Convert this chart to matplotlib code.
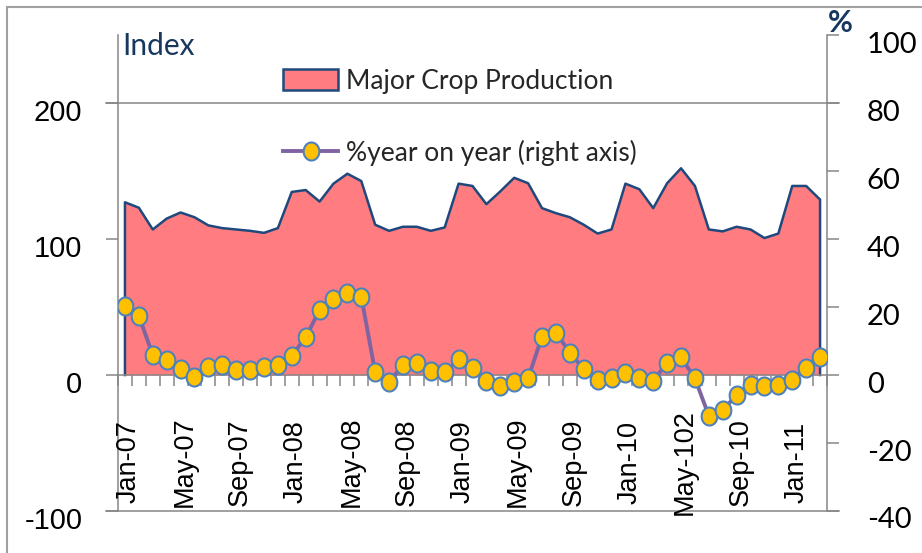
import numpy as np
import matplotlib
matplotlib.use('Agg')
import matplotlib.pyplot as plt
from matplotlib.patches import Patch, Rectangle
from matplotlib.lines import Line2D
from matplotlib.path import Path
from matplotlib.transforms import ScaledTranslation

plt.rcParams['axes.unicode_minus'] = False  # 用普通连字符显示负号

# 数据：2007年1月 - 2011年3月，月度
index_vals = [127, 123, 107, 115, 119.5, 116, 110, 108, 107, 106,
              104.5, 108, 134.6, 136, 127.5, 140.7, 148, 142.6, 110.5, 106,
              109, 109, 106, 108.5, 140.7, 139, 125.6, 135, 145, 141,
              122.7, 119, 116, 110.5, 104, 107, 140.7, 136.6, 122.7, 141,
              152, 139, 107, 105.6, 109, 107, 100.7, 104, 139, 139,
              129]
yoy_vals = [20.3, 17.4, 5.9, 4.4, 1.7, -0.5, 2.3, 2.9, 1.5, 1.5,
            2.3, 2.9, 5.7, 11.1, 19.1, 22.5, 24, 23, 0.8, -2,
            2.9, 3.6, 1.2, 0.8, 4.6, 2, -1.8, -3.2, -2.2, -1,
            11.3, 12.5, 6.6, 1.7, -1.5, -1, 0.5, -1, -1.7, 3.6,
            5.2, -1, -12, -10.3, -5.9, -2.9, -3.2, -2.9, -1.5, 2,
            5.4]
tick_labels = ['Jan-07', 'May-07', 'Sep-07', 'Jan-08', 'May-08', 'Sep-08', 'Jan-09',
               'May-09', 'Sep-09', 'Jan-10', 'May-102', 'Sep-10', 'Jan-11']
left_ticks = [-100, 0, 100, 200]
right_ticks = [-40, -20, 0, 20, 40, 60, 80, 100]

x = np.arange(len(index_vals))
W, H = 922, 553
grey = '#868686'
navy = '#1F497D'

fig = plt.figure(figsize=(W / 100, H / 100), dpi=100)
ax = fig.add_axes([118 / W, 1 - 511 / H, (827 - 118) / W, (511 - 35) / H])
ax2 = ax.twinx()

# 面积图（左轴）
ax.fill_between(x, 0, index_vals, color='#FF7C80', lw=0, zorder=2)
ax.plot(np.r_[0, x, x[-1]], np.r_[0, index_vals, 0], color=navy, lw=1.8, zorder=3)
ax.set_xlim(-0.5, len(x) - 0.5)
ax.set_ylim(-100, 250)

# 横线
ext = 12 / (827 - 118)
for yv in [200, -100]:
    ax.axhline(yv, xmin=-ext, xmax=1 + ext, color=grey, lw=1.1, clip_on=False, zorder=1)

for s in ['top', 'right']:
    ax.spines[s].set_visible(False)
ax.spines['left'].set_color(grey)
ax.spines['left'].set_linewidth(1.1)
ax.spines['bottom'].set_position(('data', 0))
ax.spines['bottom'].set_color(grey)
ax.spines['bottom'].set_linewidth(1.1)
ax.spines['bottom'].set_zorder(4)

ax.set_yticks(left_ticks)
ax.tick_params(axis='y', direction='out', length=8.6, width=1.1, color=grey, pad=17)
for lab in ax.get_yticklabels():
    lab.set_fontfamily('Liberation Sans')
    lab.set_fontsize(21)
    lab.set_transform(lab.get_transform() + ScaledTranslation(0, -0.07, fig.dpi_scale_trans))

ax.set_xticks(np.arange(-0.5, len(x), 1.0))
ax.tick_params(axis='x', direction='out', length=8, width=1.1, color=grey, labelbottom=False)

lab_off = ScaledTranslation(0.04, 0, fig.dpi_scale_trans)
for i, lab in enumerate(tick_labels):
    ax.text(i * 4, -64, lab, rotation=90, ha='center', va='center',
            fontsize=19.5, family='Liberation Sans', color='black',
            transform=ax.transData + lab_off)

# 同比折线（右轴）
t = np.linspace(0, 2 * np.pi, 60)
ell = Path(np.c_[np.cos(t), 1.15 * np.sin(t)])
ax2.plot(x, yoy_vals, color='#8064A2', lw=2.8, marker=ell, ms=13,
         mfc='#FFC000', mec='#4F81BD', mew=1.5, zorder=5)
ax2.set_ylim(-40, 100)
ax2.set_yticks(right_ticks)
for s in ['top', 'left', 'bottom']:
    ax2.spines[s].set_visible(False)
ax2.spines['right'].set_color(grey)
ax2.spines['right'].set_linewidth(1.1)
ax2.tick_params(axis='y', direction='out', length=8.6, width=1.1, color=grey, pad=20)
for lab in ax2.get_yticklabels():
    lab.set_fontfamily('Lato')
    lab.set_fontsize(21)
    lab.set_transform(lab.get_transform() + ScaledTranslation(0, -0.07, fig.dpi_scale_trans))

# 图例
handles = [Patch(fc='#FF7C80', ec=navy, lw=1.8),
           Line2D([], [], color='#8064A2', lw=2.8, marker=ell, ms=13,
                  mfc='#FFC000', mec='#4F81BD', mew=1.5)]
ax2.legend(handles, ['Major Crop Production', '%year on year (right axis)'],
           loc='upper left', bbox_to_anchor=(283 / W, 1 - 69 / H), bbox_transform=fig.transFigure,
           frameon=False, borderpad=0, borderaxespad=0, handlelength=2.1, handleheight=0.85,
           handletextpad=0.3, labelspacing=1.75, numpoints=1,
           prop={'family': 'Lato', 'size': 19}, labelcolor='#262626')

fig.text(122 / W, 1 - 55 / H, 'Index', fontsize=21.5, family='Lato', color='#17375E', va='baseline')
fig.text(828 / W, 1 - 32 / H, '%', fontsize=22, family='Lato', weight='bold', color='#17375E', va='baseline')

# 外框
fig.patches.append(Rectangle((7 / W, -0.1), 1.0, 1 - 7 / H + 0.1, transform=fig.transFigure,
                             fill=False, ec='#A0A0A0', lw=1.5))

fig.savefig('out.png', dpi=100)
